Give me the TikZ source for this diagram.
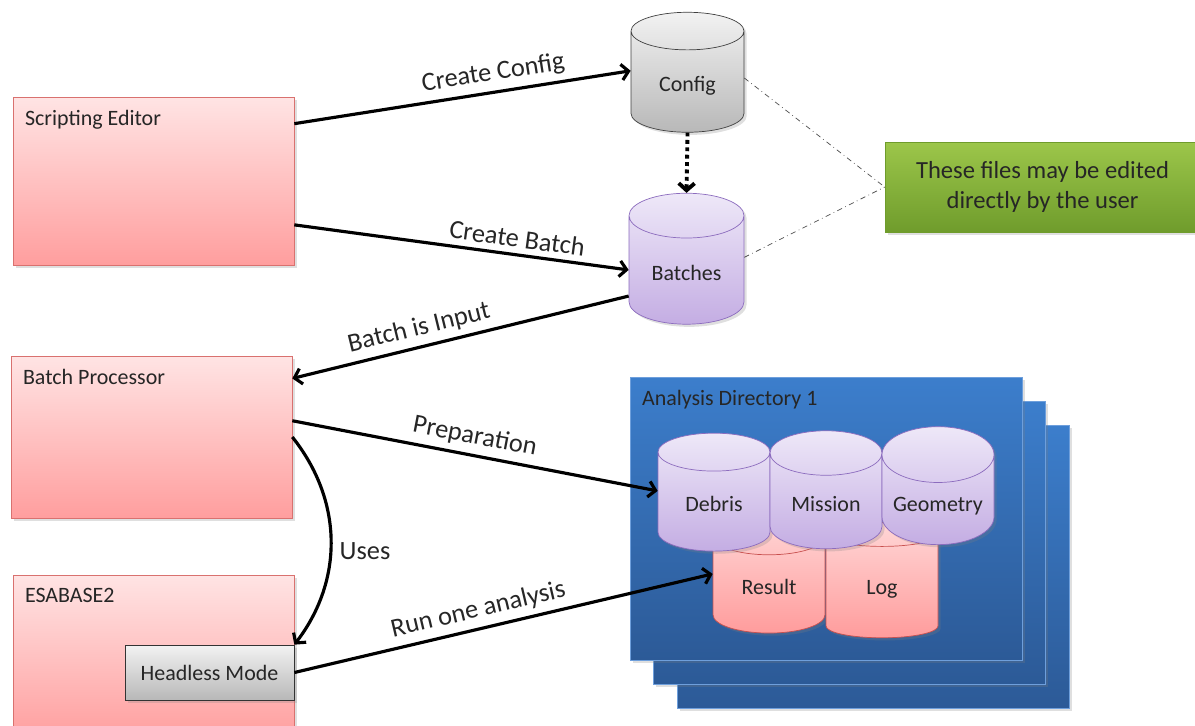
\documentclass[tikz,border=0pt]{standalone}
\usepackage{fontspec}
\setmainfont{Carlito}
\usetikzlibrary{shapes.geometric,arrows.meta,shadows,calc}

\definecolor{pinktop}{HTML}{FFE4E4}
\definecolor{pinkbot}{HTML}{FF9E9E}
\definecolor{pinkline}{HTML}{D9716F}
\definecolor{greytop}{HTML}{F2F2F2}
\definecolor{greybot}{HTML}{B8B8B8}
\definecolor{lilactop}{HTML}{EEE8F8}
\definecolor{lilacbot}{HTML}{C4ADE3}
\definecolor{lilacline}{HTML}{8C6CBE}
\definecolor{redtop}{HTML}{FFD6D6}
\definecolor{redbot}{HTML}{FF9C9C}
\definecolor{redline}{HTML}{C8504E}
\definecolor{greentop}{HTML}{9CC64A}
\definecolor{greenbot}{HTML}{6F9C2C}
\definecolor{bluetop}{HTML}{3C7ECC}
\definecolor{bluebot}{HTML}{2C5A97}
\definecolor{blueline}{HTML}{6E9FDC}
\definecolor{txt}{HTML}{262626}

\tikzset{
  shade/.style={drop shadow={opacity=0.25, shadow xshift=1.5pt, shadow yshift=-1.5pt}},
  titlebox/.style={rectangle, draw=pinkline, top color=pinktop, bottom color=pinkbot,
    shade, minimum width=5.62cm, inner sep=0pt},
  boxtitle/.style={anchor=north west, inner sep=0pt, xshift=0.24cm, yshift=-0.26cm,
    font=\fontsize{12.5}{15}\selectfont, text=txt},
  dbcyl/.style={cylinder, shape border rotate=90, aspect=0.55, draw, shade,
    text height=1.6ex, text depth=0.4ex,
    font=\fontsize{12.5}{15}\selectfont, text=txt},
  greycyl/.style={dbcyl, draw=black!75, top color=greytop, bottom color=greybot},
  lilaccyl/.style={dbcyl, draw=lilacline, top color=lilactop, bottom color=lilacbot},
  redcyl/.style={dbcyl, draw=redline, top color=redtop, bottom color=redbot},
  panel/.style={rectangle, draw=blueline, top color=bluetop, bottom color=bluebot,
    shade, minimum width=7.84cm, minimum height=5.66cm},
  arr/.style={line width=1.8pt, -{Straight Barb[length=4pt, width=9pt]}},
  arrlabel/.style={sloped, above, font=\fontsize{15}{18}\selectfont, text=txt},
  hint/.style={thin, black!70, dash dot}
}

\begin{document}
\begin{tikzpicture}[x=0.02cm, y=-0.02cm]
  \useasboundingbox (0,0) rectangle (1195,725);
  \clip (0,0) rectangle (1195,725);

  % --- Analysis directories (stack of three) ---
  \node[panel] (dir3) at (873.5,566.5) {};
  \node[panel] (dir2) at (849.5,542.5) {};
  \node[panel] (dir1) at (826,518.5) {};
  \node[boxtitle, text=black!85] at (dir1.north west) {Analysis Directory 1};

  % --- Files inside the directory ---
  \node[redcyl, minimum width=2.24cm, minimum height=2.3cm] (result) at (769,589) {Result};
  \node[redcyl, minimum width=2.24cm, minimum height=2.3cm] (log) at (882,589) {Log};
  \node[lilaccyl, minimum width=2.24cm, minimum height=2.36cm] (debris) at (714,506) {Debris};
  \node[lilaccyl, minimum width=2.24cm, minimum height=2.36cm] (mission) at (826,506) {Mission};
  \node[lilaccyl, minimum width=2.24cm, minimum height=2.36cm] (geometry) at (938,506) {Geometry};

  % --- Tool boxes ---
  \node[titlebox, minimum height=3.36cm] (editor) at (153.5,181) {};
  \node[boxtitle] at (editor.north west) {Scripting Editor};
  \node[titlebox, minimum height=3.24cm] (proc) at (151.5,437) {};
  \node[boxtitle] at (proc.north west) {Batch Processor};
  \node[titlebox, minimum height=3.3cm] (esa) at (153.5,657.5) {};
  \node[boxtitle] at (esa.north west) {ESABASE2};
  \node[rectangle, draw=black!80, top color=greytop, bottom color=greybot, shade,
    minimum width=3.38cm, minimum height=1.1cm, font=\fontsize{12.5}{15}\selectfont,
    text=txt] (headless) at (209.5,672.5) {Headless Mode};

  % --- Editable files ---
  \node[greycyl, minimum width=2.26cm, minimum height=2.4cm] (config) at (687.5,86) {Config};
  \node[lilaccyl, minimum width=2.3cm, minimum height=2.62cm] (batches) at (686.5,275) {Batches};

  % --- Note ---
  \node[rectangle, draw=greenbot, top color=greentop, bottom color=greenbot, shade,
    minimum width=6.3cm, minimum height=1.8cm, align=center,
    font=\fontsize{14}{17}\selectfont, text=txt] (note) at (1042.5,187)
    {These files may be edited\\directly by the user};
  \draw[hint] (config.8) -- (note.west);
  \draw[hint] (batches.17) -- (note.west);

  % --- Connectors ---
  \draw[arr] ($(editor.north east)!0.16!(editor.south east)$) -- (config.165)
    node[arrlabel, pos=0.6] {Create Config};
  \draw[arr] ($(editor.north east)!0.76!(editor.south east)$) -- (batches.175)
    node[arrlabel, pos=0.66] {Create Batch};
  \draw[arr, line width=2.2pt, dotted] (config.south) -- (batches.north);
  \draw[arr] (batches.200) -- ($(proc.north east)!0.14!(proc.south east)$)
    node[arrlabel, pos=0.61] {Batch is Input};
  \draw[arr] ($(proc.north east)!0.4!(proc.south east)$) -- (debris.165)
    node[arrlabel, pos=0.49] {Preparation};
  \draw[arr] (proc.east) to[bend left=38] (headless.north east);
  \node[font=\fontsize{15}{18}\selectfont, text=txt] (uses) at (365,551) {Uses};
  \draw[arr] (headless.east) -- (result.165)
    node[arrlabel, pos=0.45] {Run one analysis};
\end{tikzpicture}
\end{document}
